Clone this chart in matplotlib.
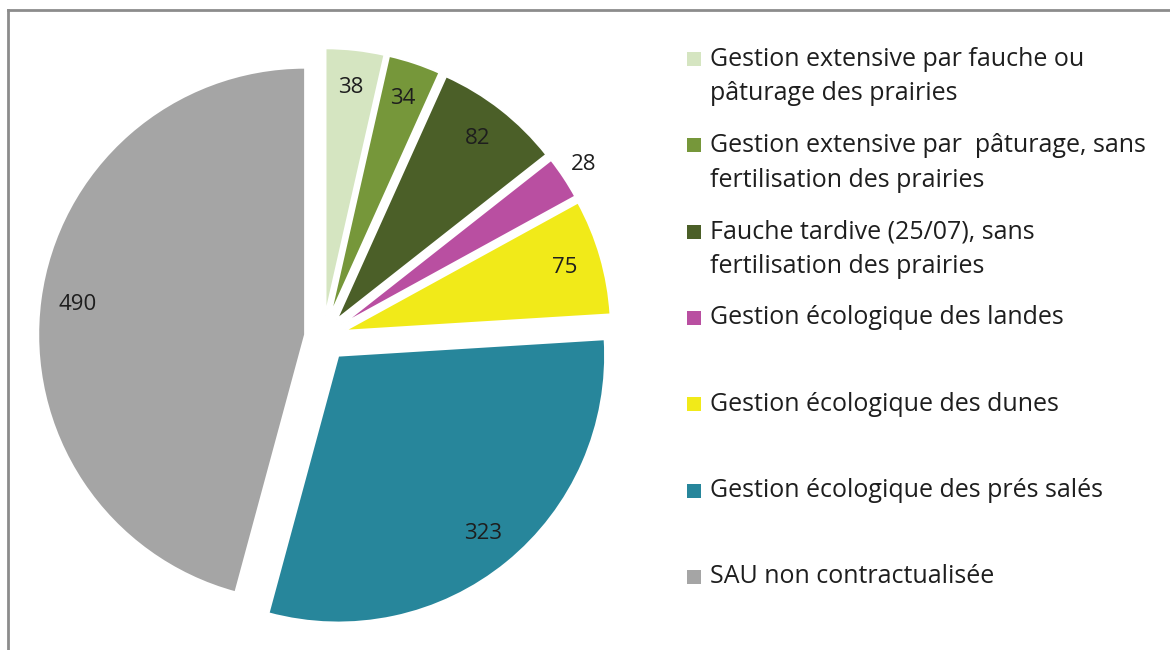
import numpy as np
import matplotlib
matplotlib.use("Agg")
import matplotlib.pyplot as plt
from matplotlib.patches import Rectangle

plt.rcParams['font.family'] = ['Open Sans', 'DejaVu Sans']

# data, clockwise from 12 o'clock
labels = [
    "Gestion extensive par fauche ou\npâturage des prairies",
    "Gestion extensive par  pâturage, sans\nfertilisation des prairies",
    "Fauche tardive (25/07), sans\nfertilisation des prairies",
    "Gestion écologique des landes",
    "Gestion écologique des dunes",
    "Gestion écologique des prés salés",
    "SAU non contractualisée",
]
values = [38, 34, 82, 28, 75, 323, 490]
colors = ["#d5e5c1", "#76973a", "#4b5f28", "#b94fa1", "#f1ea19", "#27869b", "#a5a5a5"]
explode = [0.073, 0.073, 0.073, 0.073, 0.073, 0.08, 0.06]

W, H = 1170, 650
fig = plt.figure(figsize=(W / 100, H / 100), dpi=100)

# pie axes: centre at (323, 337) px, 300 px half-width
cx, cy, half = 323, 337, 300
ax = fig.add_axes([(cx - half) / W, (H - cy - half) / H, 2 * half / W, 2 * half / H])
R = 267 / half
wedges, texts, autotexts = ax.pie(
    values, colors=colors, explode=explode, radius=R,
    startangle=90, counterclock=False,
    autopct=lambda p: f"{p * sum(values) / 100:.0f}", pctdistance=0.86,
    wedgeprops=dict(edgecolor="white", linewidth=1.5),
    textprops=dict(fontsize=16, color="#1e1e1e"),
)
ax.set_xlim(-1, 1)
ax.set_ylim(-1, 1)
ax.set_aspect("equal")
ax.axis("off")

# small magenta slice label sits outside
w = wedges[3]
tm = np.deg2rad((w.theta1 + w.theta2) / 2)
autotexts[3].set_position((w.center[0] + 1.09 * w.r * np.cos(tm),
                           w.center[1] + 1.09 * w.r * np.sin(tm)))

# legend drawn by hand, evenly spaced entries
y0, step, lsp = 59, 86.3, 35
for i, (lab, col) in enumerate(zip(labels, colors)):
    y = y0 + i * step
    fig.patches.append(Rectangle((687 / W, (H - y - 7) / H), 14 / W, 14 / H,
                                 transform=fig.transFigure, facecolor=col,
                                 edgecolor="none"))
    for j, line in enumerate(lab.split("\n")):
        fig.text(710 / W, (H - y - j * lsp) / H, line, fontsize=18,
                 color="#1e1e1e", va="center", ha="left")

# frame (top and left visible)
fig.add_artist(plt.Line2D([8 / W, 1], [1 - 10 / H, 1 - 10 / H],
                          transform=fig.transFigure, color="#8c8c8c", lw=2))
fig.add_artist(plt.Line2D([8 / W, 8 / W], [0, 1 - 10 / H],
                          transform=fig.transFigure, color="#8c8c8c", lw=2))

fig.savefig("out.png", dpi=100)
